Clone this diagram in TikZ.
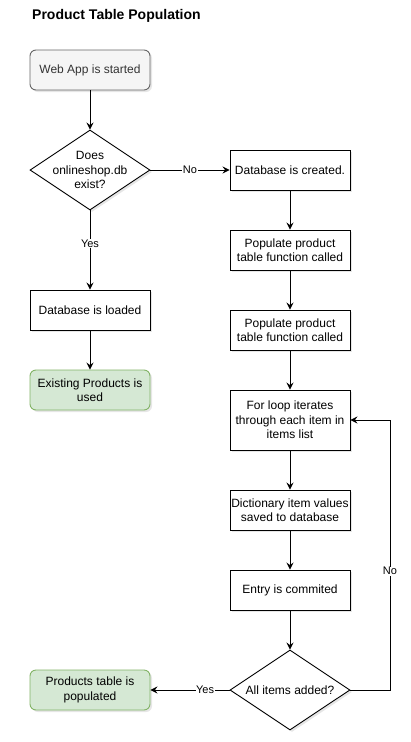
\documentclass[tikz,border=0pt]{standalone}
\usepackage{fontspec}
\setmainfont{Liberation Sans}
\usepackage{xcolor}
\usepackage{tikz}
\usetikzlibrary{shadows}
\usetikzlibrary{positioning}
\usetikzlibrary{arrows.meta,shapes.geometric}
\usetikzlibrary{calc}
\definecolor{startfill}{HTML}{F5F5F5}
\definecolor{startdraw}{HTML}{666666}
\definecolor{starttext}{HTML}{333333}
\definecolor{endfill}{HTML}{D5E8D4}
\definecolor{enddraw}{HTML}{82B366}
\tikzstyle{boxshadow}=[drop shadow={shadow xshift=2pt,shadow yshift=-2pt,opacity=0.2}]
\tikzstyle{process}=[rectangle,draw,fill=white,line width=0.9pt,minimum width=120pt,minimum height=40pt,inner sep=1pt,align=center,boxshadow]
\tikzstyle{tallprocess}=[process,minimum height=60pt]
\tikzstyle{startbox}=[process,rounded corners=6pt,fill=startfill,draw=startdraw,text=starttext]
\tikzstyle{endbox}=[process,rounded corners=6pt,fill=endfill,draw=enddraw]
\tikzstyle{decision}=[diamond,aspect=1.5,draw,fill=white,line width=0.9pt,minimum width=120pt,minimum height=80pt,inner sep=0pt,align=center,boxshadow]
\tikzstyle{edge} = [draw,line width=0.9pt,-{Stealth[length=7pt,width=7pt,inset=2.5pt]}]
\tikzstyle{weight} = [font=\fontsize{11}{13}\selectfont,fill=white,inner sep=0.5pt]

\begin{document}
\begin{tikzpicture}[x=1pt,y=-1pt,font=\fontsize{12}{14.5}\selectfont]
 \useasboundingbox (0,0) rectangle (410,742);

 \node[anchor=west,inner sep=0pt,font=\fontsize{14}{16}\selectfont\bfseries] (title) at (32,16) {Product Table Population};

 %start
 \node[startbox] (start) at (90,70) {Web App is started};

 %does the db exist
 \node[decision] (exists) at (90,170) {};
 \node[align=center] (existstxt) at (exists.center) {Does\\onlineshop.db\\exist?};

 %plain boxes
   \foreach \x/\y/\name/\label in {90/310/loaded/{Database is loaded}, 290/170/created/{Database is created.}, 290/250/popa/{Populate product\\table function called}, 290/330/popb/{Populate product\\table function called}, 290/510/dict/{Dictionary item values\\saved to database}, 290/590/commit/{Entry is commited}}
          \node[process] (\name) at (\x,\y) {\label};

 \node[tallprocess] (loop) at (290,420) {For loop iterates\\through each item in\\items list};

 %end boxes
   \foreach \x/\y/\name/\label in {90/390/existing/{Existing Products is\\used}, 90/690/populated/{Products table is\\populated}}
          \node[endbox] (\name) at (\x,\y) {\label};

 \node[decision] (alladded) at (290,690) {All items added?};
 \coordinate (back) at (390,420);

  \foreach \source/ \dest in {start/exists, loaded/existing, created/popa, popa/popb, popb/loop, loop/dict, dict/commit, commit/alladded}
         \path[edge] (\source) -- (\dest);

 \path[edge] (exists) -- node[weight] {No} (created);
 \path[edge] (exists) -- node[weight,pos=0.42] {Yes} (loaded);
 \path[edge] (alladded) -- node[weight,pos=0.31] {Yes} (populated);
 \path[edge] (alladded.east) -| node[weight,pos=0.72] {No} (back) -- (loop.east);

\end{tikzpicture}
\end{document}
